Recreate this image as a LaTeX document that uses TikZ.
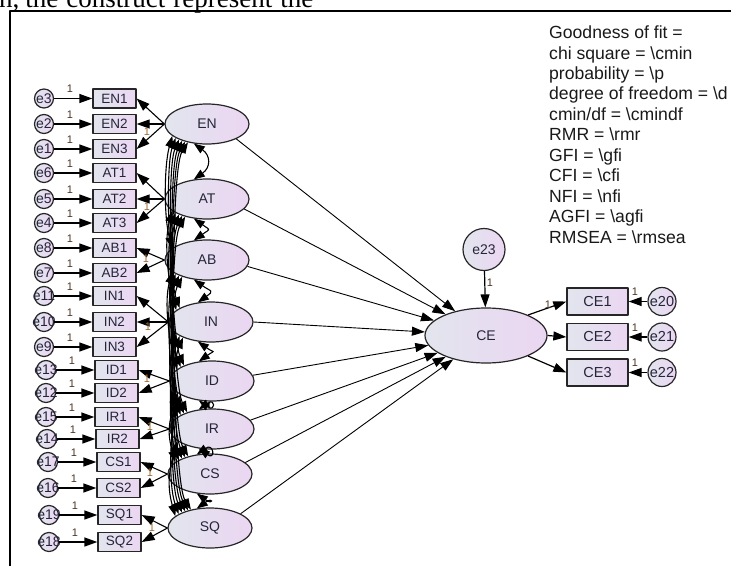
\documentclass[tikz,border=0pt]{standalone}
\usepackage{fontspec}
\setmainfont{Liberation Serif}
\newfontfamily\amosfont{Liberation Sans}
\usetikzlibrary{shapes.geometric,arrows.meta,calc}
\definecolor{fillL}{HTML}{E2E5EE}
\definecolor{fillR}{HTML}{EBD6F2}
\definecolor{edge}{HTML}{262626}
\definecolor{labtext}{HTML}{25253A}
\definecolor{onedark}{HTML}{4A3526}
\definecolor{oneload}{HTML}{A06A36}
\begin{document}
\begin{tikzpicture}[x=1pt,y=-1pt,line join=round,
  obs/.style={draw=edge,line width=1.3pt,left color=fillL,right color=fillR,
    minimum width=43pt,minimum height=19pt,inner sep=0pt,text=labtext,
    font=\amosfont\fontsize{13.5}{14}\selectfont},
  obsbig/.style={obs,minimum width=61pt,minimum height=27pt,
    font=\amosfont\fontsize{14.5}{15}\selectfont},
  lat/.style={ellipse,draw=edge,line width=1.2pt,left color=fillL,right color=fillR,
    minimum width=84pt,minimum height=40pt,inner sep=0pt,text=labtext,
    font=\amosfont\fontsize{14}{14}\selectfont},
  err/.style={circle,draw=edge,line width=1.2pt,left color=fillL,right color=fillR,
    minimum size=19pt,inner sep=0pt,text=labtext,
    font=\amosfont\fontsize{14}{14}\selectfont},
  arr/.style={-{Triangle[length=13pt,width=9pt]},line width=1.3pt,draw=black},
  reg/.style={-{Triangle[length=13pt,width=9pt]},line width=0.9pt,draw=black},
  cov/.style={{Triangle[length=11pt,width=8pt]}-{Triangle[length=11pt,width=8pt]},
    line width=1.1pt,draw=black},
  one/.style={inner sep=0pt,text=onedark,font=\amosfont\fontsize{11}{11}\selectfont},
  oneL/.style={one,text=oneload},
  fit/.style={anchor=base west,inner sep=0pt,text=black!90,
    font=\amosfont\fontsize{17.6}{20}\selectfont}]
\useasboundingbox (0,0) rectangle (731,565);
\clip (0,0) rectangle (731,565);

% running text of the page above the figure
\node[anchor=base west,inner sep=0pt,font=\fontsize{27}{30}\selectfont] (pagetext) at (-1,7.5)
  {n,\hspace{6pt}the\hspace{8pt}construct\hspace{8pt}represent\hspace{8pt}the};

% figure frame
\draw[line width=1.6pt] (10,566) -- (10,11) -- (732,11);

% fit statistics
\node[fit] (fit1)  at (549,38.5)  {Goodness of fit =};
\node[fit] (fit2)  at (549,59)    {chi square = \textbackslash cmin};
\node[fit] (fit3)  at (549,79.4)  {probability = \textbackslash p};
\node[fit] (fit4)  at (549,99.9)  {degree of freedom = \textbackslash d};
\node[fit] (fit5)  at (549,120.3) {cmin/df = \textbackslash cmindf};
\node[fit] (fit6)  at (549,140.8) {RMR = \textbackslash rmr};
\node[fit] (fit7)  at (549,161.2) {GFI = \textbackslash gfi};
\node[fit] (fit8)  at (549,181.7) {CFI = \textbackslash cfi};
\node[fit] (fit9)  at (549,202.1) {NFI = \textbackslash nfi};
\node[fit] (fit10) at (549,222.6) {AGFI = \textbackslash agfi};
\node[fit] (fit11) at (549,243)   {RMSEA = \textbackslash rmsea};

% latent constructs
\node[lat] (EN) at (207,124) {EN};
\node[lat] (AT) at (207,199) {AT};
\node[lat] (AB) at (207,260) {AB};
\node[lat] (IN) at (211,322) {IN};
\node[lat] (ID) at (212,381) {ID};
\node[lat] (IR) at (212,429) {IR};
\node[lat] (CS) at (210,474) {CS};
\node[lat] (SQ) at (210,528) {SQ};
\node[lat,minimum width=122pt,minimum height=55pt] (CE) at (486,335.5) {CE};

% indicators with their error terms
\foreach \ob/\y/\er/\xl in {EN1/98.5/e3/93, EN2/124/e2/93, EN3/149/e1/93,
    AT1/173/e6/93, AT2/199/e5/93, AT3/223/e4/93, AB1/248/e8/93, AB2/273/e7/93,
    IN1/296/e11/93, IN2/322/e10/93, IN3/347/e9/93, ID1/370/e13/95, ID2/393/e12/95,
    IR1/417/e15/95, IR2/439/e14/96, CS1/462/e17/97, CS2/488/e16/97,
    SQ1/515/e19/98, SQ2/542/e18/98} {
  \node[obs] (\ob) at (\xl+21.5,\y) {\ob};
  \node[err] (\er) at (\xl-49,\y) {\makebox[0pt]{\er}};
  \draw[arr] (\er) -- (\ob.west);
  \node[one] (one-\er) at (\xl-23,\y-9.5) {1};
}

% factor loadings
\foreach \lv/\obs in {EN/{EN1,EN2,EN3}, AT/{AT1,AT2,AT3}, AB/{AB1,AB2},
    IN/{IN1,IN2,IN3}, ID/{ID1,ID2}, IR/{IR1,IR2}, CS/{CS1,CS2}, SQ/{SQ1,SQ2}} {
  \foreach \ob in \obs {
    \draw[arr,line width=1.1pt] (\lv.west) -- (\ob.east);
  }
}
\node[oneL] (oneEN) at (147,132) {1};
\node[oneL] (oneAT) at (147,207) {1};
\node[oneL] (oneAB) at (146,259) {1};
\node[oneL] (oneIN) at (148,327) {1};
\node[oneL] (oneID) at (147,379) {1};
\node[oneL] (oneIR) at (150,427) {1};
\node[oneL] (oneCS) at (150,473) {1};
\node[oneL] (oneSQ) at (152,528) {1};

% covariances among the constructs
\foreach \a [count=\i] in {EN,AT,AB,IN,ID,IR,CS,SQ} {
  \foreach \b [count=\j] in {EN,AT,AB,IN,ID,IR,CS,SQ} {
    \ifnum\j>\i
      \pgfmathtruncatemacro\d{\j-\i}
      \ifnum\d=1
        \draw[cov] (\a.236) .. controls +(17,12) and +(17,-12) .. (\b.124);
      \else
        \pgfmathtruncatemacro\sa{189+5*\d}
        \pgfmathtruncatemacro\eb{171-5*\d}
        \pgfmathsetmacro\bx{-4-2.2*\d}
        \draw[cov] (\a.\sa) .. controls +(\bx,30) and +(\bx,-30) .. (\b.\eb);
      \fi
    \fi
  }
}

% structural paths
\draw[reg] (EN.-27) -- (CE);
\draw[reg] (AT.-15) -- (CE);
\draw[reg] (AB.-9)  -- (CE);
\draw[reg] (IN.0)   -- (CE);
\draw[reg] (ID.8)   -- (CE);
\draw[reg] (IR.13)  -- (CE);
\draw[reg] (CS.18)  -- (CE);
\draw[reg] (SQ.25)  -- (CE);

% disturbance of CE
\node[err,minimum size=42pt] (e23) at (484,249.5) {\makebox[0pt]{e23}};
\draw[arr,line width=1.2pt] (e23) -- (CE);
\node[one] (one-e23) at (490,283) {1};

% CE indicators
\node[obsbig] (CE1) at (597.5,301.5) {CE1};
\node[obsbig] (CE2) at (597.5,337) {CE2};
\node[obsbig] (CE3) at (597.5,372.5) {CE3};
\draw[arr,line width=1.2pt] (CE.26)  -- (CE1.west);
\draw[arr,line width=1.2pt] (CE.0)   -- (CE2.west);
\draw[arr,line width=1.2pt] (CE.-26) -- (CE3.west);
\node[one] (one-CE1) at (548,305) {1};

\foreach \er/\ob/\y in {e20/CE1/301.5, e21/CE2/337, e22/CE3/372.5} {
  \node[err,minimum size=28pt,font=\amosfont\fontsize{14.5}{15}\selectfont] (\er) at (662,\y) {\makebox[0pt]{\er}};
  \draw[arr,line width=1.2pt] (\er) -- (\ob.east);
  \node[one] (one-\er) at (635,\y-9.5) {1};
}
\end{tikzpicture}
\end{document}
